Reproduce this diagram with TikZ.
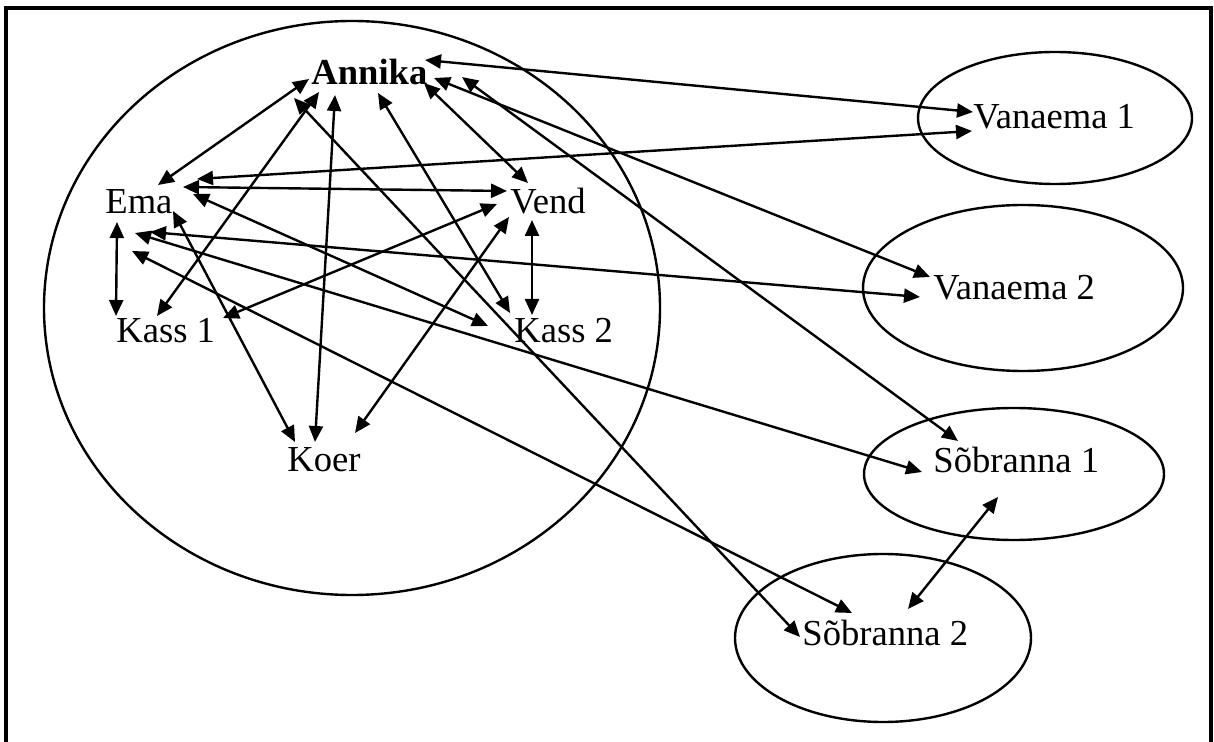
\documentclass[tikz,border=0pt]{standalone}
\usepackage{fontspec}
\setmainfont{Liberation Serif}
\usetikzlibrary{arrows.meta}
\begin{document}
\begin{tikzpicture}[x=0.5pt,y=-0.5pt,
  lbl/.style={anchor=base west,inner sep=0pt,font=\fontsize{18.3}{21}\selectfont},
  tip/.style={Triangle[length=8pt,width=7pt]},
  link/.style={line width=1.2pt,{Triangle[length=8pt,width=7pt]}-{Triangle[length=8pt,width=7pt]}},
  ring/.style={line width=1.2pt},
  frame/.style={line width=1.6pt}]
\useasboundingbox (0,0) rectangle (1214,742);
% frame (open at the bottom)
\draw[frame] (6,742) -- (6,8) -- (1211,8) -- (1211,742);
% circles / ellipses
\coordinate (home) at (352,308);
\coordinate (c1) at (1055,118);
\coordinate (c2) at (1023,288);
\coordinate (c3) at (1014,474);
\coordinate (c4) at (883,638);
\draw[ring] (home) ellipse [x radius=154pt, y radius=143.5pt];
\draw[ring] (c1) ellipse [x radius=68.5pt, y radius=33pt];
\draw[ring] (c2) ellipse [x radius=80pt, y radius=41.5pt];
\draw[ring] (c3) ellipse [x radius=75pt, y radius=33pt];
\draw[ring] (c4) ellipse [x radius=74pt, y radius=42pt];
% labels
\node[lbl,font=\fontsize{18.3}{21}\selectfont\bfseries] (A) at (311,85) {Annika};
\node[lbl] (E) at (105,214) {Ema};
\node[lbl] (V) at (510,214) {Vend};
\node[lbl] (K1) at (116,343) {Kass 1};
\node[lbl] (K2) at (514,343) {Kass 2};
\node[lbl] (Ko) at (287,472) {Koer};
\node[lbl] (V1) at (973,129) {Vanaema 1};
\node[lbl] (V2) at (933,300) {Vanaema 2};
\node[lbl] (S1) at (933,473) {Sõbranna 1};
\node[lbl] (S2) at (802,645) {Sõbranna 2};
% connectors
\draw[link] ([shift={(-2,-6)}]A.base west) -- ([shift={(53,-29)}]E.base west);
\draw[link] ([shift={(8,7)}]A.base west) -- ([shift={(41,-27)}]K1.base west);
\draw[link] ([shift={(-17,13)}]A.base west) -- ([shift={(-2,-8)}]S2.base west);
\draw[link] ([shift={(24,10)}]A.base west) -- ([shift={(28,-30)}]Ko.base west);
\draw[link] ([shift={(67,8)}]A.base west) -- ([shift={(-4,-30)}]K2.base west);
\draw[link] ([shift={(113,-2)}]A.base west) -- ([shift={(18,-31)}]V.base west);
\draw[link] ([shift={(114,-25)}]A.base west) -- ([shift={(0,-17)}]V1.base west);
\draw[link] ([shift={(123,-7)}]A.base west) -- ([shift={(-3,-23)}]V2.base west);
\draw[link] ([shift={(151,-8)}]A.base west) -- ([shift={(25,-32)}]S1.base west);
\draw[link] ([shift={(92,-35)}]E.base west) -- ([shift={(-1,2)}]V1.base west);
\draw[link] ([shift={(78,-27)}]E.base west) -- ([shift={(-3,-23)}]V.base west);
\draw[link] ([shift={(88,-20)}]E.base west) -- ([shift={(-26,-17)}]K2.base west);
\draw[link] ([shift={(68,-3)}]E.base west) -- ([shift={(8,-30)}]Ko.base west);
\draw[link] ([shift={(12,8)}]E.base west) -- ([shift={(0,-27)}]K1.base west);
\draw[link] ([shift={(45,18)}]E.base west) -- ([shift={(-13,-3)}]V2.base west);
\draw[link] ([shift={(30,19)}]E.base west) -- ([shift={(-11,-1)}]S1.base west);
\draw[link] ([shift={(27,37)}]E.base west) -- ([shift={(50,-32)}]S2.base west);
\draw[link] ([shift={(-13,-10)}]V.base west) -- ([shift={(107,-25)}]K1.base west);
\draw[link] ([shift={(-1,3)}]V.base west) -- ([shift={(68,-39)}]Ko.base west);
\draw[link] ([shift={(22,6)}]V.base west) -- ([shift={(18,-28)}]K2.base west);
\draw[link] ([shift={(65,24)}]S1.base west) -- ([shift={(106,-36)}]S2.base west);
\end{tikzpicture}
\end{document}
